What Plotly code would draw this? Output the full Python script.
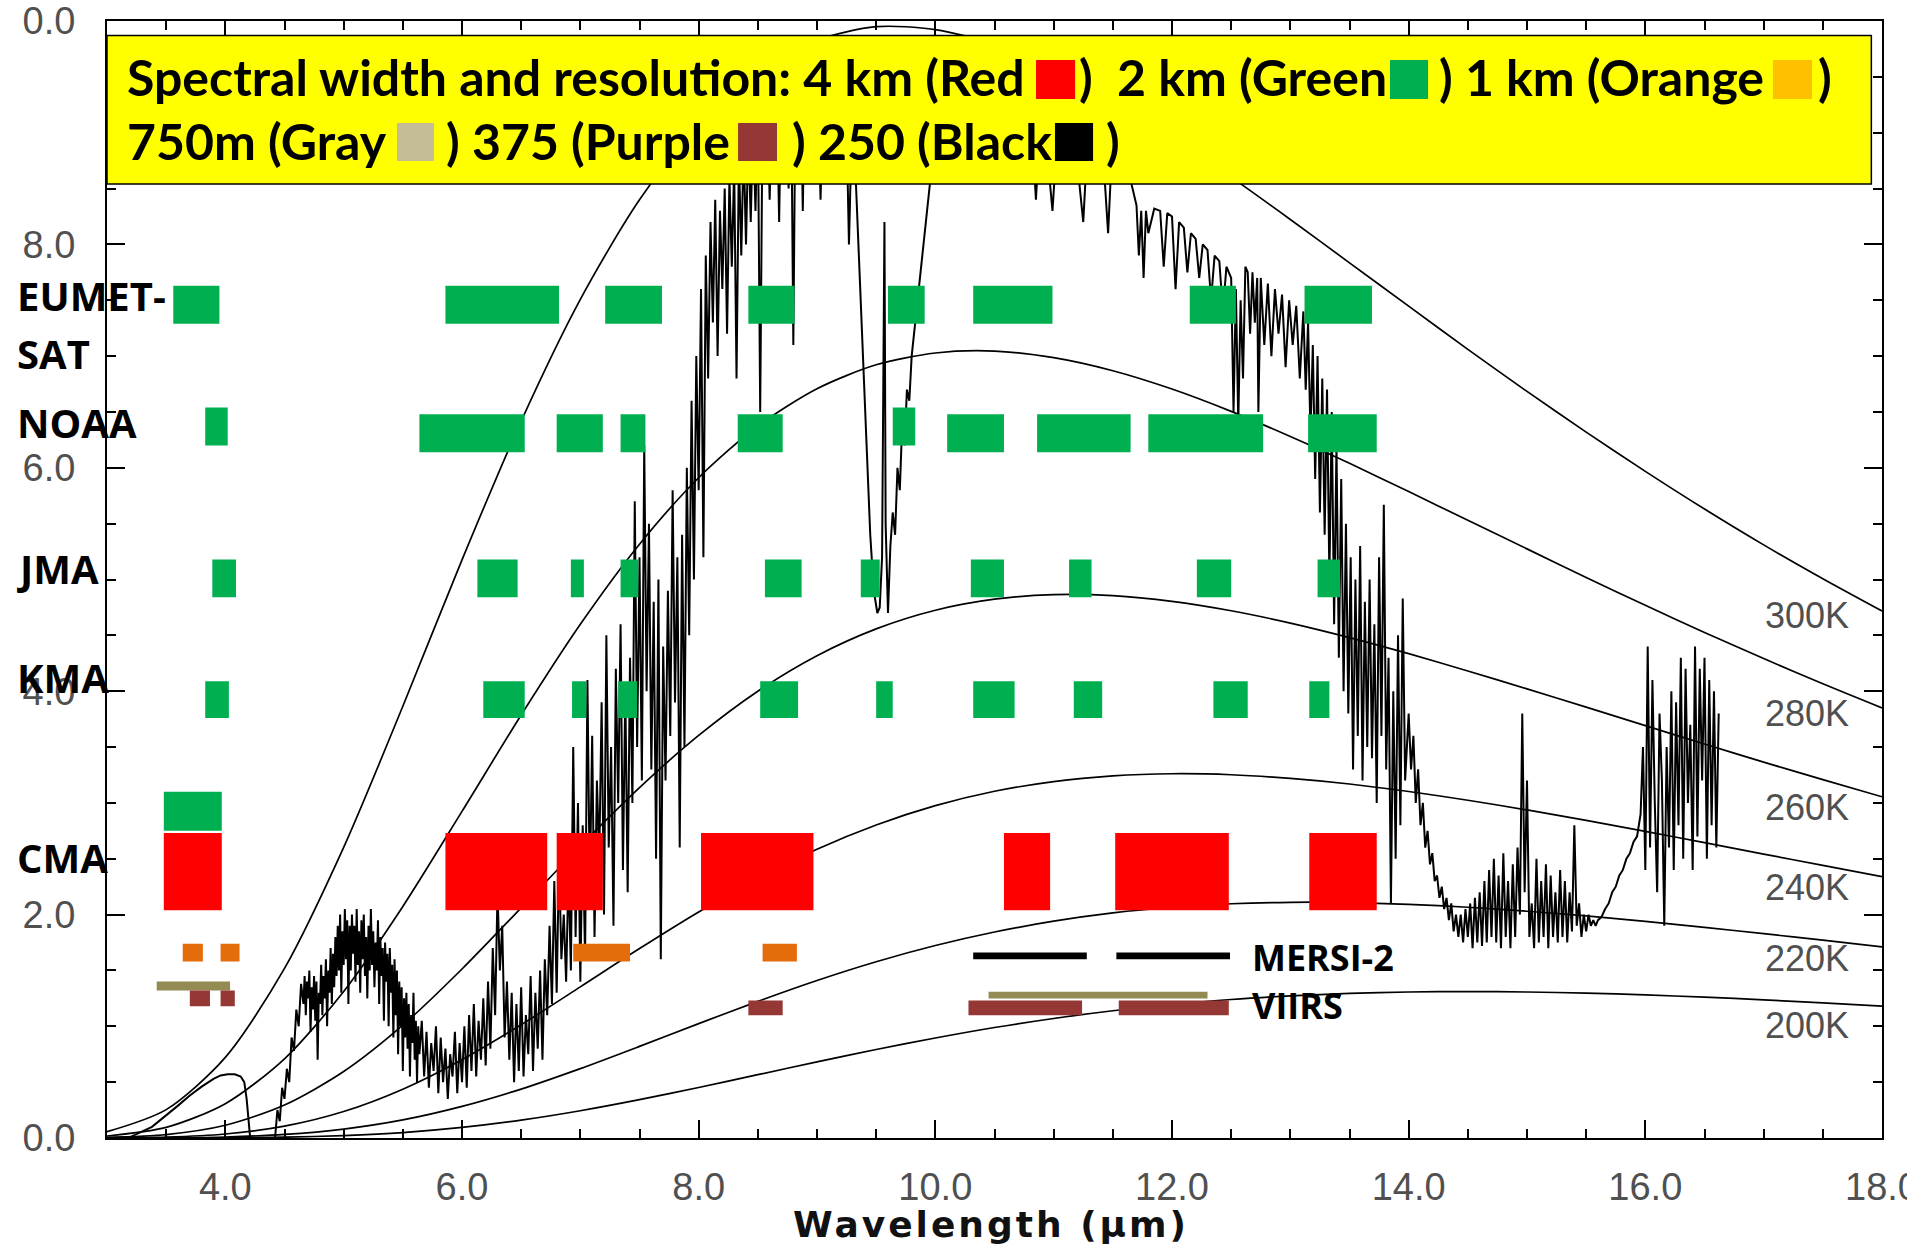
import plotly.graph_objects as go

# ---------------- data ----------------
planck_wl = [3.0, 3.5, 4.0, 4.5, 5.0, 5.5, 6.0, 6.5, 7.0, 7.5, 8.0, 8.5, 9.0, 9.5, 10.0, 10.5,
             11.0, 11.5, 12.0, 12.5, 13.0, 13.5, 14.0, 14.5, 15.0, 15.5, 16.0, 16.5, 17.0, 17.5, 18.0]
rad_300K = [0.056, 0.254, 0.722, 1.518, 2.602, 3.865, 5.176, 6.418, 7.508, 8.399, 9.078, 9.552, 9.828, 9.949, 9.923, 9.792,
            9.572, 9.295, 8.962, 8.602, 8.223, 7.835, 7.447, 7.060, 6.684, 6.319, 5.968, 5.631, 5.310, 5.007, 4.718]
rad_280K = [0.018, 0.095, 0.307, 0.709, 1.312, 2.073, 2.924, 3.787, 4.599, 5.316, 5.911, 6.374, 6.708, 6.922, 7.028, 7.045,
            6.986, 6.869, 6.705, 6.505, 6.280, 6.040, 5.787, 5.530, 5.274, 5.018, 4.769, 4.526, 4.292, 4.066, 3.850]
rad_260K = [0.005, 0.031, 0.114, 0.295, 0.595, 1.010, 1.513, 2.061, 2.614, 3.137, 3.604, 4.000, 4.318, 4.558, 4.725, 4.824,
            4.864, 4.855, 4.804, 4.720, 4.610, 4.480, 4.336, 4.181, 4.021, 3.857, 3.692, 3.527, 3.365, 3.208, 3.055]
rad_240K = [0.001, 0.008, 0.036, 0.106, 0.237, 0.437, 0.701, 1.014, 1.353, 1.696, 2.024, 2.324, 2.585, 2.802, 2.975, 3.104,
            3.191, 3.242, 3.261, 3.252, 3.219, 3.169, 3.102, 3.024, 2.937, 2.843, 2.745, 2.644, 2.542, 2.440, 2.339]
rad_220K = [0.000, 0.002, 0.009, 0.032, 0.080, 0.162, 0.283, 0.438, 0.621, 0.820, 1.024, 1.223, 1.410, 1.578, 1.723, 1.844,
            1.941, 2.015, 2.066, 2.097, 2.110, 2.108, 2.092, 2.066, 2.030, 1.988, 1.939, 1.886, 1.829, 1.771, 1.711]
rad_200K = [0.000, 0.000, 0.002, 0.007, 0.022, 0.049, 0.095, 0.160, 0.244, 0.343, 0.452, 0.567, 0.682, 0.792, 0.895, 0.989,
            1.070, 1.139, 1.195, 1.240, 1.272, 1.294, 1.307, 1.311, 1.307, 1.297, 1.281, 1.261, 1.237, 1.210, 1.180]
temp_labels = ["300K", "280K", "260K", "240K", "220K", "200K"]
temp_label_y = [4.68, 3.80, 2.96, 2.24, 1.61, 1.01]

spec_x = [
    3.00, 3.20, 3.38, 3.50, 3.60, 3.70, 3.80, 3.90, 3.96, 4.02, 4.08, 4.13, 4.16, 4.18, 4.20, 4.21, 4.30, 4.42,
    4.44, 4.46, 4.48, 4.50, 4.52, 4.54, 4.56, 4.58, 4.60, 4.62, 4.64,
    4.66, 4.67, 4.68, 4.69, 4.70, 4.71, 4.72, 4.73, 4.74, 4.75,
    4.76, 4.77, 4.78, 4.79, 4.80, 4.81, 4.82, 4.83, 4.84, 4.85,
    4.86, 4.87, 4.88, 4.89, 4.90, 4.91, 4.92, 4.93,
    4.94, 4.95, 4.96, 4.97, 4.98, 4.99, 5.00, 5.01, 5.02, 5.03,
    5.04, 5.05, 5.06, 5.07, 5.08, 5.09, 5.10, 5.11, 5.12, 5.13,
    5.14, 5.15, 5.16, 5.17, 5.18, 5.19, 5.20, 5.21, 5.22, 5.23,
    5.24, 5.25, 5.26, 5.27, 5.28, 5.29, 5.30, 5.31, 5.32, 5.33,
    5.34, 5.35, 5.36, 5.37, 5.38, 5.39, 5.40, 5.41,
    5.42, 5.43, 5.44, 5.45, 5.46, 5.47, 5.48, 5.49, 5.50, 5.51,
    5.52, 5.53, 5.54, 5.55, 5.56, 5.57, 5.58, 5.59, 5.60, 5.61,
    5.62, 5.63, 5.64,
    5.66, 5.68, 5.70, 5.72, 5.74, 5.76, 5.78, 5.80, 5.82, 5.84,
    5.86, 5.88, 5.90, 5.92, 5.94, 5.96, 5.98, 6.00, 6.02, 6.04,
    6.06, 6.08, 6.10, 6.12, 6.14, 6.16, 6.18, 6.20,
    6.22, 6.24, 6.26, 6.28, 6.30, 6.32, 6.34, 6.36,
    6.38, 6.40, 6.42, 6.44, 6.46, 6.48, 6.50, 6.52, 6.54, 6.56, 6.58, 6.60, 6.62, 6.64, 6.66, 6.68, 6.70,
    6.72, 6.74, 6.76, 6.78, 6.80, 6.82, 6.84, 6.86, 6.88, 6.90,
    6.92, 6.94, 6.96, 6.98, 7.00, 7.02, 7.04, 7.06, 7.08, 7.10, 7.12, 7.14, 7.16, 7.18,
    7.20, 7.22, 7.24, 7.26, 7.28, 7.30, 7.32, 7.34, 7.36, 7.38, 7.40,
    7.42, 7.44, 7.46, 7.48, 7.50, 7.52, 7.54, 7.56, 7.58, 7.60,
    7.62, 7.64, 7.66, 7.68, 7.70, 7.72, 7.74, 7.76, 7.78, 7.80, 7.82, 7.84, 7.86, 7.88, 7.90, 7.92, 7.94, 7.96,
    7.98, 8.00, 8.02, 8.04, 8.06, 8.08,
    8.10, 8.12, 8.14, 8.16, 8.18, 8.20, 8.22, 8.24, 8.26, 8.28, 8.30, 8.32, 8.34, 8.36, 8.38, 8.40, 8.42, 8.44,
    8.46, 8.48, 8.50, 8.52, 8.54, 8.56, 8.58, 8.60, 8.62, 8.64,
    8.66, 8.68, 8.70, 8.72, 8.74, 8.76, 8.78, 8.80, 8.82, 8.84,
    8.86, 8.88, 8.90, 8.92,
    8.95, 8.98, 9.00, 9.03, 9.06, 9.09, 9.12, 9.15, 9.18, 9.21, 9.24, 9.27, 9.30,
    9.33, 9.36, 9.39, 9.42, 9.45, 9.48, 9.51, 9.53, 9.55, 9.57, 9.58, 9.60, 9.62, 9.64, 9.66,
    9.68, 9.70, 9.72, 9.74, 9.76, 9.78, 9.80, 9.83, 9.86, 9.89, 9.92, 9.95, 9.98, 10.00,
    10.05, 10.10, 10.20, 10.30, 10.40, 10.50, 10.60, 10.70, 10.80, 10.85,
    10.90, 10.99, 11.05, 11.15, 11.25, 11.30, 11.40, 11.46, 11.50, 11.60,
    11.70, 11.72, 11.74, 11.76, 11.78, 11.80, 11.85, 11.90, 11.93, 11.96,
    12.00, 12.03, 12.06, 12.10, 12.13, 12.16, 12.20, 12.23, 12.26, 12.30,
    12.33, 12.36, 12.40, 12.43, 12.46, 12.50, 12.52, 12.54, 12.56, 12.58,
    12.60, 12.62, 12.64,
    12.66, 12.68, 12.70, 12.72, 12.73, 12.75, 12.78, 12.81, 12.84, 12.87,
    12.90, 12.93, 12.96, 12.99, 13.02, 13.05, 13.08, 13.11,
    13.13, 13.15, 13.17, 13.19, 13.21, 13.23, 13.25, 13.27, 13.29, 13.31,
    13.33, 13.35, 13.37, 13.39, 13.41, 13.43, 13.45, 13.47, 13.49,
    13.51, 13.53, 13.55, 13.57, 13.59, 13.61, 13.63, 13.65, 13.67, 13.69,
    13.71, 13.73, 13.75, 13.77, 13.79, 13.81, 13.83,
    13.85, 13.87, 13.89, 13.91, 13.93, 13.95, 13.97,
    14.00, 14.02, 14.04, 14.06, 14.08, 14.10, 14.12, 14.14, 14.16, 14.18, 14.20, 14.22, 14.24,
    14.26, 14.28, 14.30, 14.32, 14.34, 14.36, 14.38, 14.40, 14.42, 14.44,
    14.46, 14.48, 14.50, 14.52, 14.54, 14.56, 14.58, 14.60, 14.62, 14.64,
    14.66, 14.68, 14.70, 14.72, 14.74, 14.76, 14.78, 14.80, 14.82, 14.84,
    14.86, 14.88, 14.90, 14.92, 14.94, 14.96, 14.98, 15.00, 15.02, 15.04,
    15.06, 15.08, 15.10, 15.12, 15.14, 15.16, 15.18, 15.20, 15.22, 15.24,
    15.26, 15.28, 15.30, 15.32, 15.34, 15.36, 15.38, 15.40, 15.42, 15.44,
    15.46, 15.48, 15.50, 15.52, 15.54, 15.56, 15.58, 15.60,
    15.63, 15.66, 15.69, 15.72, 15.75, 15.78, 15.81, 15.84, 15.87, 15.90, 15.93, 15.96,
    15.98, 16.00, 16.02, 16.04, 16.06, 16.08, 16.10, 16.12, 16.14, 16.16,
    16.18, 16.20, 16.22, 16.24, 16.26, 16.28, 16.30, 16.32, 16.34, 16.36,
    16.38, 16.40, 16.42, 16.44, 16.46, 16.48, 16.50, 16.52, 16.54, 16.56,
    16.58, 16.60, 16.62,
]
spec_y = [
    0.00, 0.01, 0.10, 0.20, 0.29, 0.38, 0.46, 0.53, 0.56, 0.57, 0.57, 0.55, 0.50, 0.35, 0.10, 0.00, 0.00, 0.00,
    0.25, 0.15, 0.45, 0.35, 0.62, 0.50, 0.90, 0.78, 1.15, 1.00, 1.38,
    1.20, 1.45, 1.10, 1.40, 1.25, 1.50, 0.95, 1.35, 1.15, 1.45,
    1.05, 1.40, 0.70, 1.30, 1.20, 1.55, 1.10, 1.45, 1.25, 1.60,
    1.00, 1.50, 1.30, 1.70, 1.20, 1.65, 1.35, 1.80,
    1.45, 1.90, 1.50, 2.00, 1.30, 1.85, 1.55, 2.05, 1.60, 1.95,
    1.20, 1.90, 1.50, 2.00, 1.65, 1.90, 1.40, 2.05, 1.55, 1.85,
    1.30, 1.95, 1.60, 2.00, 1.45, 1.80, 1.25, 1.90, 1.50, 2.05,
    1.55, 1.85, 1.35, 1.75, 1.50, 1.95, 1.20, 1.80, 1.45, 1.70,
    1.05, 1.75, 1.40, 1.65, 1.00, 1.70, 1.30, 1.55,
    0.90, 1.60, 1.10, 1.50, 0.75, 1.40, 1.00, 1.35, 0.60, 1.25,
    0.90, 1.30, 0.80, 1.20, 0.55, 1.10, 0.85, 1.30, 0.70, 1.05,
    0.50, 1.00, 0.75,
    1.05, 0.55, 0.95, 0.45, 0.85, 0.60, 1.00, 0.40, 0.90, 0.50,
    0.80, 0.35, 0.75, 0.55, 0.95, 0.40, 0.85, 0.50, 1.00, 0.45,
    1.10, 0.60, 1.20, 0.55, 1.05, 0.70, 1.25, 0.65,
    1.40, 0.80, 1.70, 1.10, 2.20, 1.50, 1.90, 0.90,
    1.40, 0.70, 1.30, 0.50, 1.20, 0.60, 1.35, 0.55, 1.10, 0.75, 1.45, 0.60, 1.30, 0.80, 1.50, 0.70, 1.60,
    1.10, 1.90, 1.20, 2.30, 1.30, 2.50, 1.60, 2.00, 1.40, 2.40,
    1.50, 3.50, 1.80, 3.00, 1.40, 2.80, 1.60, 4.10, 2.20, 3.60, 1.80, 3.20, 2.50, 3.90,
    2.00, 4.50, 2.60, 3.50, 1.90, 4.20, 3.00, 4.60, 2.40, 4.00, 2.20,
    4.30, 3.00, 5.70, 3.50, 5.20, 3.20, 6.20, 4.00, 5.50, 3.30,
    4.80, 2.50, 5.00, 1.60, 4.40, 3.20, 4.90, 3.60, 5.80, 3.90, 5.20, 2.60, 5.40, 3.50, 6.00, 4.50, 6.60, 5.00,
    7.00, 5.80, 7.60, 5.20, 7.90, 6.80,
    8.20, 7.30, 8.40, 7.00, 8.30, 7.60, 8.50, 7.20, 8.60, 7.80, 8.70, 6.80, 8.80, 7.90, 8.90, 8.00, 9.00, 8.20,
    9.10, 8.30, 9.20, 6.50, 9.20, 8.60, 9.30, 8.40, 9.40, 8.90,
    9.40, 8.20, 9.50, 8.80, 9.50, 8.50, 9.60, 7.10, 9.60, 8.90,
    9.60, 8.30, 9.70, 9.20,
    9.70, 8.90, 9.70, 8.40, 9.70, 9.20, 9.70, 8.60, 9.60, 9.30, 9.60, 8.00, 9.30,
    8.50, 7.80, 7.00, 6.20, 5.40, 4.90, 4.70, 4.75, 5.20, 8.20, 5.50, 4.70, 5.30, 5.60, 5.40,
    6.00, 5.80, 6.40, 6.20, 6.70, 6.60, 7.00, 7.30, 7.60, 7.90, 8.20, 8.50, 8.80, 9.00,
    9.20, 9.30, 9.35, 9.40, 9.40, 9.35, 9.40, 9.40, 9.35, 8.40,
    9.35, 8.30, 9.30, 9.25, 8.20, 9.20, 9.10, 8.10, 9.00, 8.80,
    8.35, 7.90, 8.30, 7.70, 8.30, 8.10, 8.32, 8.30, 7.80, 8.28,
    8.25, 7.60, 8.20, 8.15, 7.75, 8.10, 8.05, 7.70, 8.00, 7.95,
    7.50, 7.90, 7.85, 7.40, 7.80, 7.70, 6.50, 7.60, 6.40, 7.50,
    6.80, 7.80, 7.75,
    7.20, 7.75, 7.30, 7.70, 6.50, 7.70, 7.10, 7.65, 7.00, 7.60,
    7.20, 7.55, 6.90, 7.50, 7.10, 7.45, 6.80, 7.40,
    6.70, 7.30, 6.30, 7.10, 5.90, 7.00, 5.60, 6.80, 5.40, 6.70,
    5.00, 6.50, 4.60, 6.20, 4.30, 5.90, 4.00, 5.50, 3.80,
    5.20, 3.30, 5.00, 3.60, 5.30, 3.20, 4.80, 3.50, 5.00, 3.40,
    4.60, 3.00, 5.20, 3.60, 5.67, 3.30, 4.30,
    2.10, 4.00, 2.50, 4.50, 2.80, 4.83, 3.20,
    3.80, 3.30, 3.60, 3.00, 3.30, 2.80, 3.00, 2.60, 2.75, 2.45, 2.55, 2.30, 2.35,
    2.15, 2.25, 2.05, 2.15, 1.95, 2.10, 1.85, 2.00, 1.80, 2.00,
    1.75, 2.05, 1.80, 2.10, 1.70, 2.15, 1.75, 2.20, 1.72, 2.30,
    1.75, 2.40, 1.80, 2.50, 1.75, 2.35, 1.70, 2.55, 1.80, 2.30,
    1.70, 2.45, 1.80, 2.60, 2.00, 3.80, 2.20, 3.20, 1.80, 2.10,
    1.70, 2.50, 1.75, 2.30, 1.80, 2.45, 1.70, 2.35, 1.80, 2.20,
    1.75, 2.40, 1.80, 2.30, 1.75, 2.20, 1.85, 2.80, 1.90, 2.10,
    1.80, 2.00, 1.85, 2.00, 1.90, 1.95, 1.90, 1.95,
    1.98, 2.05, 2.10, 2.20, 2.25, 2.35, 2.40, 2.50, 2.55, 2.65, 2.70, 2.90,
    3.50, 2.40, 4.40, 2.60, 4.10, 3.00, 2.20, 3.80, 3.20, 1.90,
    3.50, 2.60, 4.00, 2.40, 3.90, 2.80, 4.30, 2.50, 4.20, 3.00,
    3.70, 2.40, 4.40, 2.70, 4.20, 3.20, 4.30, 2.50, 4.10, 2.80,
    4.00, 2.60, 3.80,
]

# channel bands (start, end in micrometres)
eumetsat_start = [3.56, 5.86, 7.21, 8.42, 9.60, 10.32, 12.15, 13.12]
eumetsat_end   = [3.95, 6.82, 7.69, 8.81, 9.91, 10.99, 12.54, 13.69]
noaa_start     = [5.64, 6.80, 7.34, 8.33, 10.10, 10.86, 11.80, 13.15]
noaa_end       = [6.53, 7.19, 7.55, 8.71, 10.58, 11.65, 12.77, 13.73]
noaa_hi_start  = [3.83, 9.64]
noaa_hi_end    = [4.02, 9.83]
jma_start      = [3.89, 6.13, 6.92, 7.34, 8.56, 9.37, 10.30, 11.13, 12.21, 13.23]
jma_end        = [4.09, 6.47, 7.03, 7.49, 8.87, 9.53, 10.58, 11.32, 12.50, 13.42]
kma_start      = [3.83, 6.18, 6.93, 7.32, 8.52, 9.50, 10.32, 11.17, 12.35, 13.16]
kma_end        = [4.03, 6.53, 7.05, 7.48, 8.84, 9.64, 10.67, 11.41, 12.64, 13.33]
cma_green_start = [3.48]
cma_green_end   = [3.97]
cma_red_start  = [3.48, 5.86, 6.80, 8.02, 10.58, 11.52, 13.16]
cma_red_end    = [3.97, 6.72, 7.19, 8.97, 10.97, 12.48, 13.73]
orange_start   = [3.64, 3.96, 6.94, 8.54]
orange_end     = [3.81, 4.12, 7.42, 8.83]
gray_l_start, gray_l_end = [3.42], [4.04]
gray_r_start, gray_r_end = [10.45], [12.30]
purple_l_start = [3.70, 3.96]
purple_l_end   = [3.87, 4.08]
purple_r_start = [8.42, 10.28, 11.55]
purple_r_end   = [8.71, 11.24, 12.48]
mersi_start    = [10.32, 11.53]
mersi_end      = [11.28, 12.49]

agency_labels = ["EUMET-", "SAT", "NOAA", "JMA", "KMA", "CMA"]
agency_label_y = [7.54, 7.02, 6.41, 5.10, 4.12, 2.51]

# header text pieces and the colour chips that sit between them
header_row1 = ["Spectral width and resolution: 4 km (Red", ")  2 km (Green", ") 1 km (Orange", ")"]
header_row2 = ["750m (Gray", ") 375 (Purple", ") 250 (Black", ")"]
chip_colors_row1 = ["#FF0000", "#00B050", "#FFC000"]
chip_colors_row2 = ["#C4BD97", "#953735", "#000000"]

# ---------------- figure ----------------
fig = go.Figure()

for vals in [rad_300K, rad_280K, rad_260K, rad_240K, rad_220K, rad_200K]:
    fig.add_trace(go.Scatter(x=planck_wl, y=vals, mode="lines",
                             line=dict(color="black", width=1.7, shape="spline", smoothing=0.8),
                             hoverinfo="skip", showlegend=False))

fig.add_trace(go.Scatter(x=spec_x, y=spec_y, mode="lines",
                         line=dict(color="black", width=2.0),
                         hoverinfo="skip", showlegend=False))


def add_rects(starts, ends, y0, y1, color):
    xs, ys = [], []
    for a, b in zip(starts, ends):
        xs += [a, b, b, a, a, None]
        ys += [y0, y0, y1, y1, y0, None]
    fig.add_trace(go.Scatter(x=xs, y=ys, mode="lines", fill="toself", fillcolor=color,
                             line=dict(width=0, color=color), hoverinfo="skip", showlegend=False))


GREEN, RED, ORANGE, OLIVE, BROWN = "#00B050", "#FF0000", "#E46C0A", "#948A54", "#953735"
add_rects(eumetsat_start, eumetsat_end, 7.29, 7.63, GREEN)
add_rects(noaa_start, noaa_end, 6.14, 6.48, GREEN)
add_rects(noaa_hi_start, noaa_hi_end, 6.20, 6.54, GREEN)
add_rects(jma_start, jma_end, 4.84, 5.18, GREEN)
add_rects(kma_start, kma_end, 3.76, 4.09, GREEN)
add_rects(cma_green_start, cma_green_end, 2.75, 3.10, GREEN)
add_rects(cma_red_start, cma_red_end, 2.04, 2.73, RED)
add_rects(orange_start, orange_end, 1.58, 1.74, ORANGE)
add_rects(gray_l_start, gray_l_end, 1.32, 1.40, OLIVE)
add_rects(gray_r_start, gray_r_end, 1.25, 1.31, OLIVE)
add_rects(purple_l_start, purple_l_end, 1.18, 1.32, BROWN)
add_rects(purple_r_start, purple_r_end, 1.10, 1.23, BROWN)
add_rects(mersi_start, mersi_end, 1.60, 1.66, "#000000")

# yellow header box
fig.add_shape(type="rect", xref="x", yref="y", x0=3.0, x1=17.91, y0=8.54, y1=9.87,
              fillcolor="#FFFF00", line=dict(color="black", width=1.5), layer="above")

# header layout (positions in axis units)
row1_text_x = [3.152, 11.197, 14.240, 17.443]
row2_text_x = [3.156, 5.848, 8.772, 11.422]
row1_chip_x = [(10.851, 11.181), (13.842, 14.164), (17.079, 17.409)]
row2_chip_x = [(5.451, 5.763), (8.333, 8.662), (11.011, 11.333)]
row1_y, row2_y = 9.50, 8.925
row1_chip_y, row2_chip_y = (9.302, 9.651), (8.747, 9.087)

box_font = dict(family="Lato, Open Sans, sans-serif", size=50, color="black", weight="bold")
for txts, xs, yv in [(header_row1, row1_text_x, row1_y), (header_row2, row2_text_x, row2_y)]:
    for t, xv in zip(txts, xs):
        fig.add_annotation(x=xv, y=yv, xref="x", yref="y", text=t, showarrow=False,
                           xanchor="left", yanchor="middle", font=box_font)
for cols, xs, (ya, yb) in [(chip_colors_row1, row1_chip_x, row1_chip_y),
                           (chip_colors_row2, row2_chip_x, row2_chip_y)]:
    for c, (xa, xb) in zip(cols, xs):
        fig.add_shape(type="rect", xref="x", yref="y", x0=xa, x1=xb, y0=ya, y1=yb,
                      fillcolor=c, line=dict(width=0), layer="above")

lab_font = dict(family="Open Sans, sans-serif", size=40, color="black", weight="bold")
for t, yv in zip(agency_labels, agency_label_y):
    fig.add_annotation(x=-0.052, y=yv, xref="paper", yref="y", text=t, showarrow=False,
                       xanchor="left", yanchor="middle", font=lab_font)

k_font = dict(family="Liberation Sans, Arial, sans-serif", size=36, color="#505050")
for t, yv in zip(temp_labels, temp_label_y):
    fig.add_annotation(x=17.37, y=yv, xref="x", yref="y", text=t, showarrow=False,
                       xanchor="center", yanchor="middle", font=k_font)

inst_font = dict(family="Open Sans, sans-serif", size=36, color="black", weight="bold")
fig.add_annotation(x=12.66, y=1.62, xref="x", yref="y", text="MERSI-2", showarrow=False,
                   xanchor="left", yanchor="middle", font=inst_font)
fig.add_annotation(x=12.66, y=1.19, xref="x", yref="y", text="VIIRS", showarrow=False,
                   xanchor="left", yanchor="middle", font=inst_font)

fig.add_annotation(x=10.47, y=-0.077, xref="x", yref="paper",
                   text='<span style="letter-spacing:3px">Wavelength (μm)</span>',
                   showarrow=False, xanchor="center", yanchor="middle",
                   font=dict(family="DejaVu Sans, sans-serif", size=36, color="#111111", weight="bold"))

tick_font = dict(family="Liberation Sans, Arial, sans-serif", size=38, color="#505050")
axis_common = dict(
    ticks="inside", ticklen=18, tickwidth=2, tickcolor="black",
    showline=True, linecolor="black", linewidth=2, mirror="ticks",
    showgrid=False, zeroline=False, tickfont=tick_font, tickformat=".1f",
    automargin=False,
    minor=dict(ticks="inside", ticklen=9, tickwidth=1.5, tickcolor="black",
               dtick=0.5, tick0=0, showgrid=False),
)
fig.update_xaxes(range=[3, 18], dtick=2, tick0=0, ticklabelstandoff=14,
                 ticklabeloverflow="allow", **axis_common)
fig.update_yaxes(range=[0, 10], dtick=2, tick0=0, ticklabelstandoff=22,
                 ticklabeloverflow="allow", labelalias={"10.0": "0.0"}, **axis_common)

fig.update_layout(
    width=1907, height=1246,
    margin=dict(l=107, r=25, t=21, b=108, autoexpand=False),
    paper_bgcolor="white", plot_bgcolor="white",
    showlegend=False,
)

fig.write_html("out.html", config={"displayModeBar": False},
               post_script="document.body.style.margin='0px';document.body.style.overflow='hidden';")
